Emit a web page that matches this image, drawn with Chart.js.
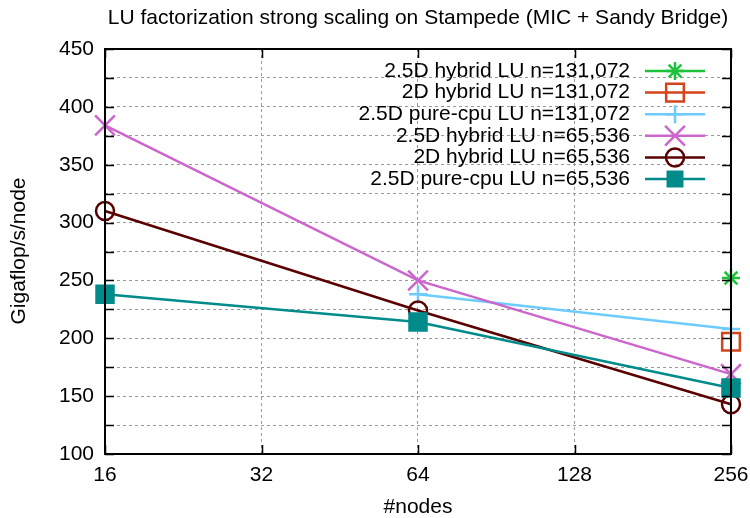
<!DOCTYPE html>
<html>
<head>
<meta charset="utf-8">
<script src="https://cdn.jsdelivr.net/npm/chart.js@4/dist/chart.umd.min.js"></script>
<style>
html,body{margin:0;padding:0;background:#fff;}
#wrap{width:750px;height:518px;position:relative;}
</style>
</head>
<body>
<div id="wrap"><canvas id="c" width="750" height="518"></canvas></div>
<script>
// ---- data ----
const nodes = [16, 64, 256];
const xTicks = [16, 32, 64, 128, 256];
const seriesLabels = [
  "2.5D hybrid LU n=131,072",
  "2D hybrid LU n=131,072",
  "2.5D pure-cpu LU n=131,072",
  "2.5D hybrid LU n=65,536",
  "2D hybrid LU n=65,536",
  "2.5D pure-cpu LU n=65,536"
];
const hybrid25_131k = [null, null, 252];
const hybrid2d_131k = [null, null, 197];
const cpu25_131k = [null, 238, 208];
const hybrid25_65k = [384, 250, 169];
const hybrid2d_65k = [310, 224, 143];
const cpu25_65k = [238, 214, 157];

const seriesValues = [hybrid25_131k, hybrid2d_131k, cpu25_131k, hybrid25_65k, hybrid2d_65k, cpu25_65k];
const colors = ['#1ec23a', '#d4431a', '#6ccbff', '#cc66cc', '#5a0000', '#008b8b'];
const styles = [
  {shape:'star', r:9, fill:false},
  {shape:'rect', r:12.5, fill:false},
  {shape:'cross', r:9, fill:false},
  {shape:'crossRot', r:14, fill:false},
  {shape:'circle', r:9, fill:false},
  {shape:'rect', r:12, fill:true}
];

const FONT = '"Liberation Sans", Arial, sans-serif';
const FS = 21;

const datasets = seriesValues.map((vals, i) => ({
  label: seriesLabels[i],
  data: vals.map((v, j) => v == null ? null : {x: nodes[j], y: v}).filter(p => p),
  borderColor: colors[i],
  backgroundColor: styles[i].fill ? colors[i] : 'rgba(0,0,0,0)',
  borderWidth: 2.5,
  pointStyle: styles[i].shape,
  pointRadius: styles[i].r,
  pointHoverRadius: styles[i].r,
  pointBorderWidth: 2.5,
  pointBackgroundColor: styles[i].fill ? colors[i] : 'rgba(0,0,0,0)',
  pointBorderColor: colors[i],
  tension: 0,
  clip: false,
  order: 6 - i
}));

function drawMarker(ctx, shape, x, y, r, color, fill) {
  ctx.save();
  ctx.strokeStyle = color; ctx.fillStyle = color; ctx.lineWidth = 2.5;
  ctx.beginPath();
  if (shape === 'circle') { ctx.arc(x, y, r, 0, Math.PI*2); }
  else if (shape === 'rect') { const s = Math.SQRT1_2 * r; ctx.rect(x-s, y-s, 2*s, 2*s); }
  else if (shape === 'cross') { ctx.moveTo(x-r,y); ctx.lineTo(x+r,y); ctx.moveTo(x,y-r); ctx.lineTo(x,y+r); }
  else if (shape === 'crossRot') { const o = r*Math.SQRT1_2; ctx.moveTo(x-o,y-o); ctx.lineTo(x+o,y+o); ctx.moveTo(x-o,y+o); ctx.lineTo(x+o,y-o); }
  else if (shape === 'star') { const o = r*Math.SQRT1_2; ctx.moveTo(x-r,y); ctx.lineTo(x+r,y); ctx.moveTo(x,y-r); ctx.lineTo(x,y+r); ctx.moveTo(x-o,y-o); ctx.lineTo(x+o,y+o); ctx.moveTo(x-o,y+o); ctx.lineTo(x+o,y-o); }
  if (fill) ctx.fill(); else ctx.stroke();
  ctx.restore();
}

const framePlugin = {
  id: 'frame',
  afterDatasetsDraw(chart) {
    const {ctx, chartArea: a, scales} = chart;
    ctx.save();
    ctx.strokeStyle = '#000'; ctx.lineWidth = 1.5;
    const ys = scales.y;
    ctx.beginPath();
    for (let v = 100; v <= 450; v += 25) {
      const py = Math.round(ys.getPixelForValue(v)) + 0.5;
      ctx.moveTo(a.left, py); ctx.lineTo(a.left + 9, py);
      ctx.moveTo(a.right, py); ctx.lineTo(a.right - 9, py);
    }
    const xs = scales.x;
    xTicks.forEach(t => {
      const px = Math.round(xs.getPixelForValue(t)) + 0.5;
      ctx.moveTo(px, a.bottom); ctx.lineTo(px, a.bottom - 9);
      ctx.moveTo(px, a.top); ctx.lineTo(px, a.top + 9);
    });
    ctx.stroke();
    ctx.lineWidth = 2;
    ctx.strokeRect(a.left, a.top, a.right - a.left, a.bottom - a.top);
    ctx.fillStyle = '#000';
    ctx.font = FS + 'px ' + FONT;
    ctx.textAlign = 'center'; ctx.textBaseline = 'middle';
    ctx.fillText('LU factorization strong scaling on Stampede (MIC + Sandy Bridge)', 418, 18);
    ctx.fillText('#nodes', (a.left + a.right) / 2, 507);
    ctx.save();
    ctx.translate(19, 251); ctx.rotate(-Math.PI/2);
    ctx.fillText('Gigaflop/s/node', 0, 0);
    ctx.restore();
    ctx.textAlign = 'right';
    chart.data.datasets.forEach((ds, i) => {
      const y = 71 + i * 21.6;
      ctx.fillStyle = '#000';
      ctx.fillText(ds.label, 630, y);
      ctx.strokeStyle = colors[i]; ctx.lineWidth = 2.5;
      ctx.beginPath(); ctx.moveTo(645, y); ctx.lineTo(705, y); ctx.stroke();
      drawMarker(ctx, styles[i].shape, 675, y, styles[i].r, colors[i], styles[i].fill);
    });
    ctx.restore();
  }
};

new Chart(document.getElementById('c'), {
  type: 'line',
  data: { datasets },
  options: {
    responsive: false,
    animation: false,
    devicePixelRatio: 1,
    layout: { padding: { left: 0, right: 19, top: 49, bottom: 0 } },
    plugins: { legend: { display: false }, title: { display: false }, tooltip: { enabled: false } },
    scales: {
      x: {
        type: 'logarithmic', min: 16, max: 256,
        afterBuildTicks: s => { s.ticks = xTicks.map(v => ({value: v})); },
        afterFit: s => { s.height = 64; s.paddingLeft = 0; s.paddingRight = 0; },
        border: { display: false, dash: [3, 3] },
        grid: {
          drawTicks: false,
          color: c => (c.tick && (c.tick.value === 16 || c.tick.value === 256)) ? 'rgba(0,0,0,0)' : '#9a9a9a',
          lineWidth: 1
        },
        ticks: { color: '#000', font: { family: FONT, size: FS }, padding: 9, maxRotation: 0, autoSkip: false,
          callback: v => String(v) }
      },
      y: {
        min: 100, max: 450,
        afterFit: s => { s.width = 105; s.paddingTop = 0; s.paddingBottom = 0; },
        border: { display: false, dash: [3, 3] },
        grid: {
          drawTicks: false,
          color: c => (c.tick && (c.tick.value === 100 || c.tick.value === 450)) ? 'rgba(0,0,0,0)' : '#9a9a9a',
          lineWidth: 1
        },
        ticks: { stepSize: 25, color: '#000', font: { family: FONT, size: FS }, padding: 11,
          callback: v => (v % 50 === 0 ? String(v) : '') }
      }
    }
  },
  plugins: [framePlugin]
});
</script>
</body>
</html>
